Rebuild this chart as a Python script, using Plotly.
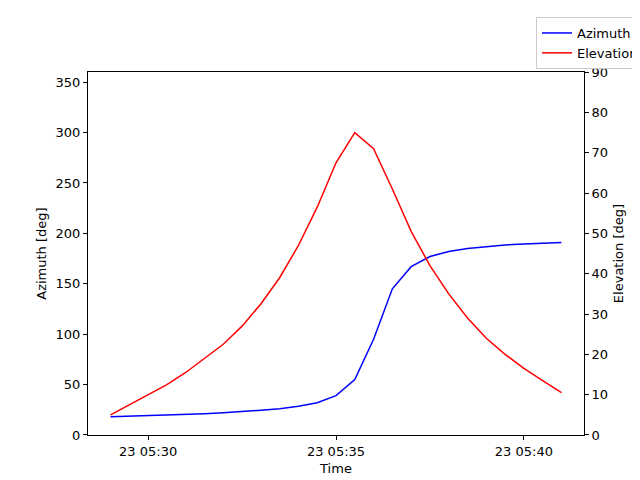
import plotly.graph_objects as go
import pandas as pd

times = pd.date_range("2024-01-23 05:29:00", periods=25, freq="30s")
azimuth = [18, 18.5, 19, 19.5, 20, 21, 22, 23, 24.5, 26, 28.5, 32, 39, 55, 95, 145, 167, 177, 182, 185, 187, 188.5, 189.5, 190.5, 191]
elevation = [5, 7.5, 10, 12.5, 15.5, 19, 22.5, 27, 32.5, 39, 47, 56.5, 67.5, 75, 71, 61, 50.5, 42, 35, 29, 24, 20, 16.5, 13.5, 10.5]

fig = go.Figure()
fig.add_trace(go.Scatter(x=times, y=azimuth, mode="lines", name="Azimuth", line=dict(color="blue", width=1.5)))
fig.add_trace(go.Scatter(x=times, y=elevation, mode="lines", name="Elevation", yaxis="y2", line=dict(color="red", width=1.5)))

tf = dict(size=13)
ax = dict(showline=True, linecolor="black", ticks="outside", ticklen=4, showgrid=False, zeroline=False, tickcolor="black")
fig.update_layout(
    width=640, height=480, plot_bgcolor="white", paper_bgcolor="white",
    font=dict(family="DejaVu Sans", size=13, color="black"),
    margin=dict(l=80, r=4, t=2, b=53),
    xaxis=dict(**ax, mirror=True, domain=[0, 496/556], range=["2024-01-23 05:28:24", "2024-01-23 05:41:36"],
               tickvals=["2024-01-23 05:30", "2024-01-23 05:35", "2024-01-23 05:40"],
               ticktext=["23 05:30", "23 05:35", "23 05:40"],
               title=dict(text="Time", standoff=6, font=tf)),
    yaxis=dict(**ax, mirror=True, domain=[0, 369/425], range=[0, 360], dtick=50,
               title=dict(text="Azimuth [deg]", standoff=6, font=tf)),
    yaxis2=dict(**ax, overlaying="y", anchor="x", side="right", range=[0, 90], dtick=10,
                title=dict(text="Elevation [deg]", standoff=6, font=tf)),
    legend=dict(x=1, y=1, xanchor="right", yanchor="top",
                bordercolor="#cccccc", borderwidth=1, bgcolor="white"),
    showlegend=True,
)
fig.write_html("out.html")
